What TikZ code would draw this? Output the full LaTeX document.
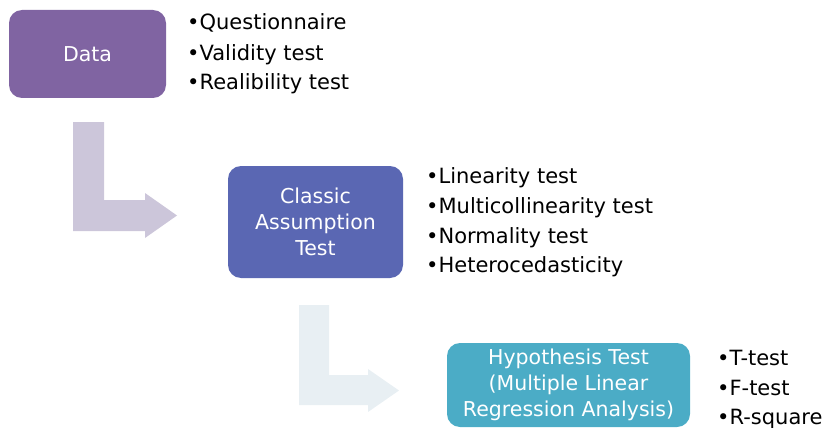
\documentclass[tikz,border=0pt]{standalone}
\usepackage{fontspec}
\setmainfont{DejaVu Sans}
\definecolor{cdata}{HTML}{8064A2}
\definecolor{cclassic}{HTML}{5A67B3}
\definecolor{chypo}{HTML}{4BACC6}
\definecolor{carrowA}{HTML}{CCC6DA}
\definecolor{carrowB}{HTML}{E8EFF3}
\tikzset{
  stagebox/.style={fill=#1, draw=none, rounded corners=13pt, inner sep=0pt, text=white,
    align=center, font=\fontsize{20.5}{26}\selectfont},
  bulletitem/.style={anchor=base west, inner sep=0pt, font=\fontsize{21}{30}\selectfont, text=black},
}
\begin{document}
\begin{tikzpicture}[x=1pt,y=-1pt]
\useasboundingbox (0,0) rectangle (825,428);
% block arrows
\fill[carrowA] (73,122) -- (104,122) -- (104,200) -- (145,200) -- (145,193) -- (177,215.5)
  -- (145,238) -- (145,231) -- (73,231) -- cycle;
\fill[carrowB] (299,305) -- (329,305) -- (329,375) -- (368,375) -- (368,369) -- (399,390.5)
  -- (368,412) -- (368,405) -- (299,405) -- cycle;
% boxes
\node[stagebox=cdata, minimum width=157pt, minimum height=88pt] (data) at (87.5,54) {Data};
\node[stagebox=cclassic, minimum width=175pt, minimum height=112pt] (classic) at (315.5,222)
  {Classic\\Assumption\\Test};
\node[stagebox=chypo, minimum width=243pt, minimum height=84pt] (hypo) at (568.5,385)
  {Hypothesis Test\\(Multiple Linear\\Regression Analysis)};
% bullet lists
\node[bulletitem] (q1) at (187,30) {•Questionnaire};
\node[bulletitem] (q2) at (187,60) {•Validity test};
\node[bulletitem] (q3) at (187,90) {•Realibility test};
\node[bulletitem] (c1) at (426,183) {•Linearity test};
\node[bulletitem] (c2) at (426,213) {•Multicollinearity test};
\node[bulletitem] (c3) at (426,243) {•Normality test};
\node[bulletitem] (c4) at (426,272) {•Heterocedasticity};
\node[bulletitem] (h1) at (717,365) {•T-test};
\node[bulletitem] (h2) at (717,395) {•F-test};
\node[bulletitem] (h3) at (717,424) {•R-square};
\end{tikzpicture}
\end{document}
